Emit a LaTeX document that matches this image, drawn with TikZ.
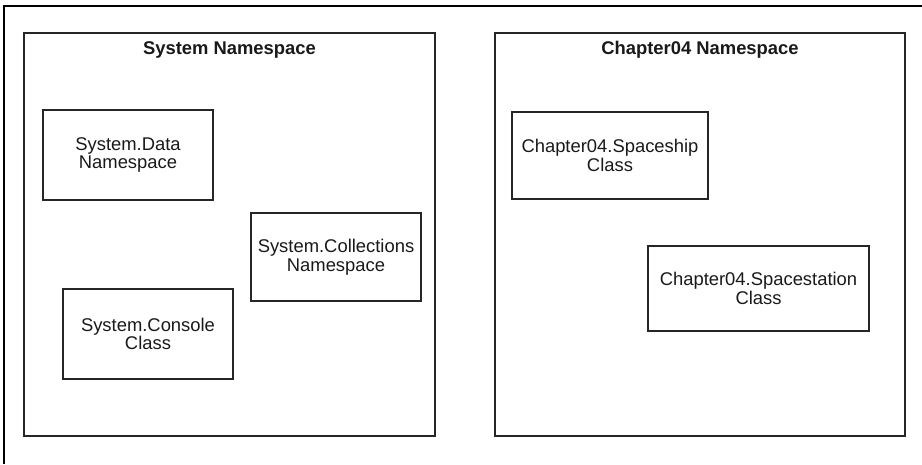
\documentclass[tikz,border=0pt]{standalone}
\usepackage{fontspec}
\setmainfont{Liberation Sans}
\usetikzlibrary{positioning}

\tikzset{
  container/.style={draw=black!85, line width=1.3pt, inner sep=0pt, outer sep=0pt},
  member/.style={draw=black!85, line width=1.3pt, inner sep=0pt, outer sep=0pt,
    align=center, font=\fontsize{18.4}{18.6}\selectfont, text=black!90},
  title/.style={font=\fontsize{18.4}{18.6}\selectfont\bfseries, text=black!90, inner sep=0pt}
}

\begin{document}
\begin{tikzpicture}[x=1pt, y=-1pt]
        \useasboundingbox (0,0) rectangle (922,464);
        % frame round the whole figure (cut at right and bottom)
        \draw[line width=1.5pt] (922,6) -- (4,6) -- (4,464);

        % the two namespaces
        \node[container, minimum width=411pt, minimum height=403pt] (sysns) at (229.5,234.5) {};
        \node[container, minimum width=410pt, minimum height=403pt] (chns) at (700,234.5) {};
        \node[title] (systitle) at ([yshift=-17pt]sysns.north) {System Namespace};
        \node[title] (chtitle) at ([yshift=-17pt]chns.north) {Chapter04 Namespace};

        % members of System
        \node[member, minimum width=170pt, minimum height=90pt] (sysdata) at (128,155) {System.Data\\Namespace};
        \node[member, minimum width=170pt, minimum height=88pt] (syscoll) at (336,257) {System.Collections\\Namespace};
        \node[member, minimum width=170pt, minimum height=90pt] (syscons) at (148,334) {System.Console\\Class};

        % members of Chapter04
        \node[member, minimum width=196pt, minimum height=87pt] (ship) at (610,155.5) {Chapter04.Spaceship\\Class};
        \node[member, minimum width=221pt, minimum height=85pt] (station) at (758.5,288.5) {Chapter04.Spacestation\\Class};
    \end{tikzpicture}
\end{document}
